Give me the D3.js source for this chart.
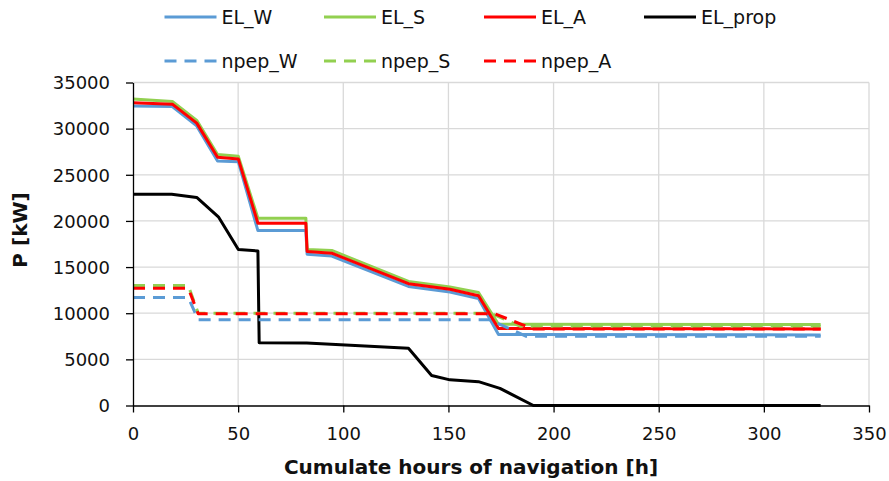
<!DOCTYPE html>
<html>
<head>
<meta charset="utf-8">
<script src="https://cdn.jsdelivr.net/npm/d3@7"></script>
<style>
  html, body { margin: 0; padding: 0; background: #fff; }
  svg { display: block; }
  text { font-family: "DejaVu Sans", sans-serif; fill: #111; }
</style>
</head>
<body>
<svg id="chart" width="889" height="481"></svg>
<script>
// ---- Data ----
const elHours   = [0, 18.7, 30.3, 40.2, 50.1, 59.4, 82.2, 82.8, 94.5, 131, 150.7, 164.3, 173.8, 327];
const EL_W      = [32450, 32400, 30300, 26500, 26400, 18950, 18950, 16400, 16200, 12900, 12300, 11600, 7700, 7650];
const EL_S      = [33200, 32950, 30900, 27200, 27000, 20300, 20300, 16900, 16800, 13450, 12850, 12250, 8800, 8780];
const EL_A      = [32800, 32650, 30600, 26900, 26700, 19750, 19750, 16700, 16500, 13200, 12600, 11900, 8350, 8300];

const propHours = [0, 18.4, 30.3, 40.6, 50.1, 59.4, 60.0, 82.6, 131, 142, 150.7, 164.3, 174.5, 190.4, 327];
const EL_prop   = [22900, 22900, 22550, 20450, 16900, 16750, 6800, 6770, 6200, 3250, 2780, 2580, 1860, 0, 0];

const npepWHours = [0, 26.3, 31, 169.5, 187, 327];
const npep_W     = [11700, 11700, 9300, 9300, 7500, 7500];
const npepSHours = [0, 26.3, 31, 170, 184, 327];
const npep_S     = [13000, 13000, 10000, 10000, 8600, 8600];
const npepAHours = [0, 26.3, 31, 172, 190, 327];
const npep_A     = [12700, 12700, 9950, 9950, 8300, 8300];

const xTicks = [0, 50, 100, 150, 200, 250, 300, 350];
const yTicks = [0, 5000, 10000, 15000, 20000, 25000, 30000, 35000];

const seriesList = [
  { name: "EL_W",   hours: elHours,    values: EL_W,    color: "#5B9BD5", dash: null },
  { name: "EL_S",   hours: elHours,    values: EL_S,    color: "#92D050", dash: null },
  { name: "EL_A",   hours: elHours,    values: EL_A,    color: "#FF0000", dash: null },
  { name: "EL_prop",hours: propHours,  values: EL_prop, color: "#000000", dash: null },
  { name: "npep_W", hours: npepWHours, values: npep_W,  color: "#5B9BD5", dash: "12,8" },
  { name: "npep_S", hours: npepSHours, values: npep_S,  color: "#92D050", dash: "12,8" },
  { name: "npep_A", hours: npepAHours, values: npep_A,  color: "#FF0000", dash: "12,8" }
];

// ---- Layout ----
const pLeft = 133, pRight = 869, pTop = 82.5, pBottom = 405.5;
const svg = d3.select("#chart");

const x = d3.scaleLinear().domain([0, 350]).range([pLeft, pRight]);
const y = d3.scaleLinear().domain([0, 35000]).range([pBottom, pTop]);

// gridlines
const grid = svg.append("g");
grid.selectAll("line.h").data(yTicks.filter(d => d > 0)).join("line")
  .attr("class", "h")
  .attr("x1", pLeft).attr("x2", pRight)
  .attr("y1", d => y(d)).attr("y2", d => y(d))
  .attr("stroke", "#d9d9d9").attr("stroke-width", 1.3);
grid.selectAll("line.v").data(xTicks.filter(d => d > 0)).join("line")
  .attr("class", "v")
  .attr("x1", d => x(d)).attr("x2", d => x(d))
  .attr("y1", pTop).attr("y2", pBottom)
  .attr("stroke", "#d9d9d9").attr("stroke-width", 1.3);

// series
const line = d3.line().x(d => x(d[0])).y(d => y(d[1]));
svg.append("g").selectAll("path").data(seriesList).join("path")
  .attr("d", s => line(s.hours.map((h, i) => [h, s.values[i]])))
  .attr("fill", "none")
  .attr("stroke", s => s.color)
  .attr("stroke-width", 3)
  .attr("stroke-linejoin", "round")
  .attr("stroke-dasharray", s => s.dash);

// axes
const xAxis = d3.axisBottom(x).tickValues(xTicks).tickFormat(d3.format("d"))
  .tickSizeOuter(0).tickSizeInner(7).tickPadding(15);
const yAxis = d3.axisLeft(y).tickValues(yTicks).tickFormat(d3.format("d"))
  .tickSizeOuter(0).tickSizeInner(7).tickPadding(16);

const gx = svg.append("g").attr("transform", `translate(0,${pBottom})`).call(xAxis);
const gy = svg.append("g").attr("transform", `translate(${pLeft},0)`).call(yAxis);
[gx, gy].forEach(g => {
  g.select(".domain").attr("stroke", "#000").attr("stroke-width", 1.3);
  g.selectAll(".tick line").attr("stroke", "#000").attr("stroke-width", 1.3);
  g.selectAll(".tick text").attr("font-family", "DejaVu Sans, sans-serif")
    .attr("font-size", 18).attr("fill", "#111");
});
gy.selectAll(".tick text").attr("dy", "0.35em");

// axis titles
svg.append("text")
  .attr("x", 471).attr("y", 474)
  .attr("text-anchor", "middle")
  .attr("font-size", 20).attr("font-weight", "bold")
  .text("Cumulate hours of navigation [h]");
svg.append("text")
  .attr("transform", "translate(27,230) rotate(-90)")
  .attr("text-anchor", "middle")
  .attr("font-size", 20).attr("font-weight", "bold")
  .text("P [kW]");

// legend
const legendPos = [
  [164.5, 17], [324, 17], [484, 17], [644, 17],
  [164.5, 61], [324, 61], [484, 61]
];
const lg = svg.append("g");
seriesList.forEach((s, i) => {
  const [lx, ly] = legendPos[i];
  lg.append("line")
    .attr("x1", lx).attr("x2", lx + 52)
    .attr("y1", ly).attr("y2", ly)
    .attr("stroke", s.color).attr("stroke-width", 3)
    .attr("stroke-dasharray", s.dash);
  lg.append("text")
    .attr("x", lx + 57).attr("y", ly)
    .attr("dy", "0.36em")
    .attr("font-size", 19)
    .text(s.name);
});
</script>
</body>
</html>
